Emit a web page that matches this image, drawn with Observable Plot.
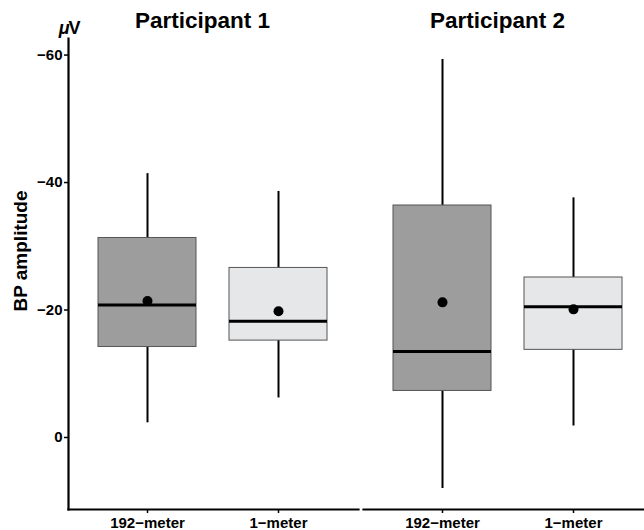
<!DOCTYPE html>
<html><head><meta charset="utf-8">
<script src="https://cdn.jsdelivr.net/npm/d3@7"></script>
<script src="https://cdn.jsdelivr.net/npm/@observablehq/plot@0.6"></script>
<style>
html,body{margin:0;padding:0;background:#fff;overflow:hidden}
#chart{width:644px;height:530px;overflow:hidden}
#chart svg{max-width:none !important;display:block}
#chart svg text{font-weight:bold}
</style></head><body><div id="chart"></div>
<script>
const participants = ["Participant 1", "Participant 2"];
const conditions = ["192−meter", "1−meter"];
const yTicks = [-60, -40, -20, 0];

// one entry per box: P1 192, P1 1, P2 192, P2 1
const groupParticipant = ["Participant 1", "Participant 1", "Participant 2", "Participant 2"];
const groupCondition = ["192−meter", "1−meter", "192−meter", "1−meter"];
const whiskerBottom = [-2.3, -6.2, 8.0, -1.8];
const q1 = [-14.2, -15.2, -7.3, -13.75];
const median = [-20.8, -18.25, -13.5, -20.5];
const q3 = [-31.3, -26.6, -36.4, -25.1];
const whiskerTop = [-41.4, -38.6, -59.3, -37.6];
const mean = [-21.4, -19.8, -21.2, -20.1];

const rows = groupParticipant.map((p, i) => ({
  participant: p, condition: groupCondition[i],
  lo: whiskerBottom[i], q1: q1[i], median: median[i], q3: q3[i], hi: whiskerTop[i], mean: mean[i]
}));

const font = "'Liberation Sans', Arial, Helvetica, sans-serif";

const plot = Plot.plot({
  width: 653, height: 530,
  marginLeft: 68, marginRight: 0, marginTop: 38, marginBottom: 21,
  style: {fontFamily: font, fontWeight: "bold", fontSize: "15px", color: "#000", background: "#fff"},
  fx: {domain: participants, paddingInner: 5 / 295, paddingOuter: 0, axis: null},
  x: {type: "band", domain: conditions, paddingInner: 0.25, paddingOuter: 0.2235, axis: null},
  y: {domain: [11.3, -62.6], axis: null},
  color: {domain: conditions, range: ["#9d9d9e", "#e6e7e8"]},
  marks: [
    Plot.axisY({ticks: yTicks, tickFormat: d => d < 0 ? "−" + Math.abs(d) : String(d), tickSize: 4, tickPadding: 2, label: null, strokeWidth: 1.5, fontSize: 15, fontWeight: "bold"}),
    Plot.axisX({anchor: "bottom", tickSize: 4, tickPadding: 4, label: null, strokeWidth: 1.5, fontSize: 15, fontWeight: "bold"}),
    Plot.frame({anchor: "left", facetAnchor: "left", strokeWidth: 2.2, stroke: "#000"}),
    Plot.frame({anchor: "bottom", strokeWidth: 2.2, stroke: "#000"}),
    Plot.ruleX(rows, {fx: "participant", x: "condition", y1: "lo", y2: "hi", strokeWidth: 2, stroke: "#000"}),
    Plot.barY(rows, {fx: "participant", x: "condition", y1: "q1", y2: "q3", fill: "condition", stroke: "#555", strokeWidth: 1}),
    Plot.tickY(rows, {fx: "participant", x: "condition", y: "median", strokeWidth: 3, stroke: "#000"}),
    Plot.dot(rows, {fx: "participant", x: "condition", y: "mean", r: 5, fill: "#000"}),
    Plot.text(participants, {fx: d => d, text: d => d, frameAnchor: "top", dy: -11, dx: -11, lineAnchor: "bottom", fontSize: 22.5, fontWeight: "bold"}),
    Plot.text(["μ"], {fx: () => "Participant 1", text: d => d, frameAnchor: "top-left", dx: 1, dy: -5, textAnchor: "end", lineAnchor: "bottom", fontSize: 18, fontWeight: "bold", fontStyle: "italic"}),
    Plot.text(["V"], {fx: () => "Participant 1", text: d => d, frameAnchor: "top-left", dx: 0, dy: -5, textAnchor: "start", lineAnchor: "bottom", fontSize: 18, fontWeight: "bold"}),
    Plot.text(["BP amplitude"], {fx: () => "Participant 1", text: d => d, frameAnchor: "left", dx: -48, dy: -23, rotate: -90, textAnchor: "middle", lineAnchor: "middle", fontSize: 19, fontWeight: "bold"})
  ]
});
document.getElementById("chart").appendChild(plot);
</script></body></html>
